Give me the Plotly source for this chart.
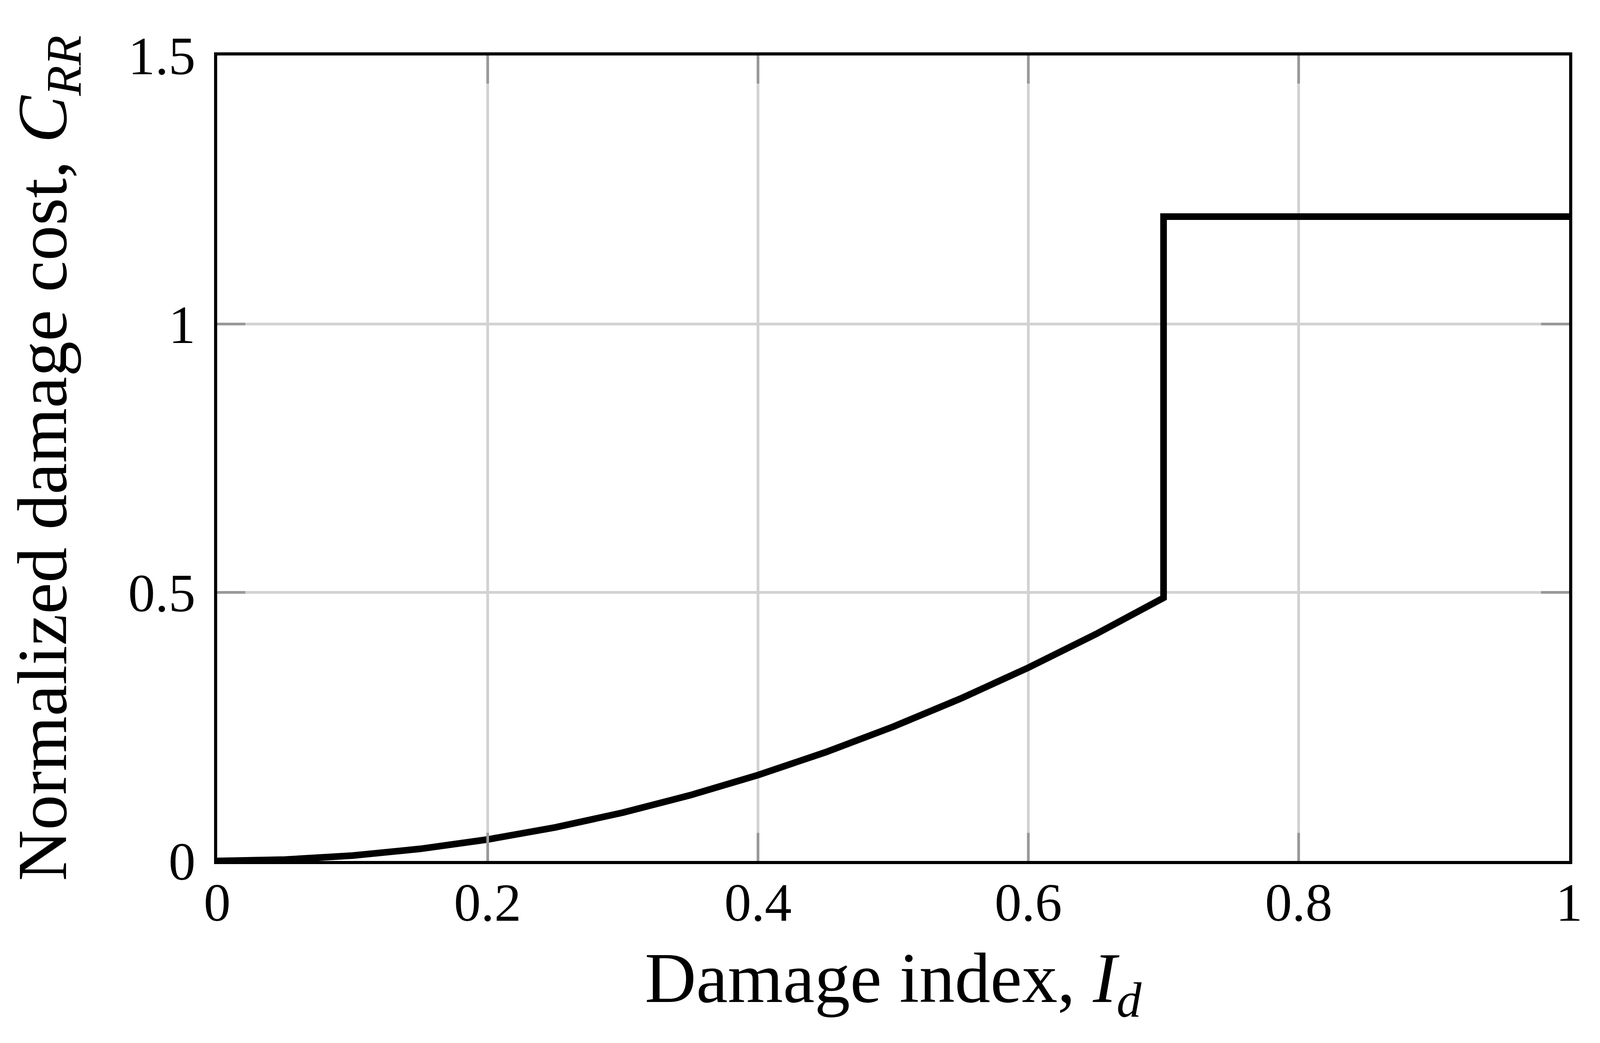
import plotly.graph_objects as go

# damage index and normalized repair cost
damage_index = [0.0, 0.05, 0.1, 0.15, 0.2, 0.25, 0.3, 0.35, 0.4, 0.45, 0.5,
                0.55, 0.6, 0.65, 0.7, 0.7, 1.0]
damage_cost = [0.0, 0.0025, 0.01, 0.0225, 0.04, 0.0625, 0.09, 0.1225, 0.16,
               0.2025, 0.25, 0.3025, 0.36, 0.4225, 0.49, 1.2, 1.2]

x_ticks = [0, 0.2, 0.4, 0.6, 0.8, 1]
x_labels = ['0', '0.2', '0.4', '0.6', '0.8', '1']
y_ticks = [0, 0.5, 1, 1.5]
y_labels = ['0', '0.5', '1', '1.5']

FONT = 'Liberation Serif'


def axis_style(vals, labels, rng, pad):
    return dict(
        range=rng,
        tickvals=vals,
        ticktext=labels,
        ticks='inside',
        ticklen=72,
        tickwidth=7,
        tickcolor='#999999',
        ticklabelstandoff=pad,
        showgrid=True,
        gridcolor='#d2d2d2',
        gridwidth=7,
        zeroline=False,
        showline=True,
        linecolor='black',
        linewidth=8,
        mirror='ticks',
        tickfont=dict(family=FONT, size=138, color='black'),
    )


data = [go.Scatter(x=damage_index, y=damage_cost, mode='lines',
                   line=dict(color='black', width=17), showlegend=False)]

layout = go.Layout(
    width=4086,
    height=2636,
    paper_bgcolor='white',
    plot_bgcolor='white',
    margin=dict(l=548, r=77, t=134, b=440),
)
fig = go.Figure(data=data, layout=layout)

xa = axis_style(x_ticks, x_labels, [0, 1], -21)
xa['title'] = dict(text='Damage index, <i>I</i><sub><i>d</i></sub>',
                   font=dict(family=FONT, size=182, color='black'), standoff=55)
ya = axis_style(y_ticks, y_labels, [0, 1.5], 20)
ya['title'] = dict(text='Normalized damage cost, <i>C</i><sub><i>RR</i></sub>',
                   font=dict(family=FONT, size=181, color='black'), standoff=100)
fig.update_layout(xaxis=xa, yaxis=ya)

fig.write_html("out.html")
